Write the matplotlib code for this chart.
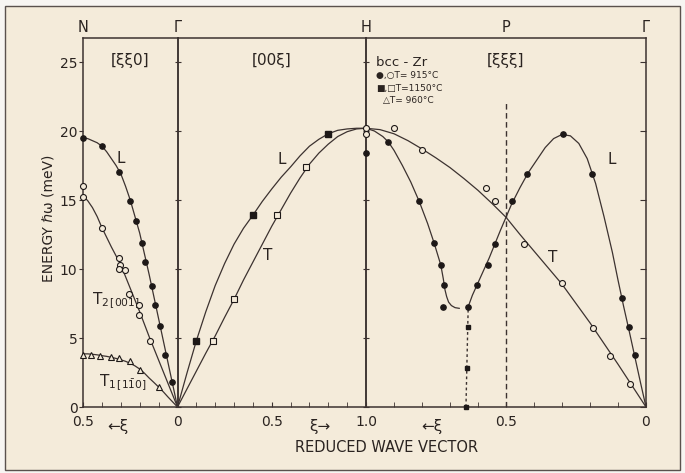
import matplotlib
matplotlib.use("Agg")
import matplotlib.pyplot as plt
from matplotlib.patches import Rectangle
from matplotlib.ticker import FixedLocator

# ---------------- [xi xi 0] direction, N -> Gamma ----------------
xi_110 = [0.5, 0.475, 0.45, 0.425, 0.4, 0.375, 0.35, 0.325, 0.3, 0.275, 0.25,
          0.225, 0.2, 0.175, 0.15, 0.125, 0.1, 0.075, 0.05, 0.025, 0.0]
L_110_fit = [19.5, 19.45, 19.3, 19.15, 18.9, 18.5, 18.0, 17.5, 16.9, 16.0, 15.0,
             13.8, 12.6, 11.1, 9.6, 8.0, 6.4, 4.8, 3.2, 1.6, 0.0]
T2_110_fit = [15.3, 14.95, 14.45, 13.8, 13.0, 12.3, 11.6, 10.95, 10.3, 9.45, 8.6,
              7.75, 6.9, 6.0, 5.1, 4.25, 3.4, 2.55, 1.7, 0.85, 0.0]
T1_110_fit = [3.85, 3.85, 3.82, 3.78, 3.72, 3.67, 3.6, 3.52, 3.42, 3.31, 3.17,
              2.98, 2.75, 2.45, 2.1, 1.78, 1.45, 1.1, 0.72, 0.36, 0.0]

L_110_xi = [0.5, 0.4, 0.31, 0.25, 0.22, 0.19, 0.17, 0.135, 0.12, 0.09, 0.065, 0.03]
L_110_E = [19.5, 18.9, 17.0, 14.9, 13.5, 11.9, 10.5, 8.8, 7.4, 5.9, 3.8, 1.8]
T2_110_xi = [0.5, 0.5, 0.4, 0.31, 0.305, 0.31, 0.28, 0.255, 0.205, 0.205, 0.145]
T2_110_E = [16.0, 15.2, 13.0, 10.8, 10.3, 10.0, 9.9, 8.2, 7.4, 6.7, 4.8]
T1_110_xi = [0.5, 0.46, 0.41, 0.35, 0.31, 0.25, 0.2, 0.1]
T1_110_E = [3.8, 3.8, 3.7, 3.6, 3.55, 3.35, 2.7, 1.45]

# ---------------- [0 0 xi] direction, Gamma -> H ----------------
xi_100 = [0.0, 0.05, 0.1, 0.15, 0.2, 0.25, 0.3, 0.35, 0.4, 0.45, 0.5,
          0.55, 0.6, 0.65, 0.7, 0.75, 0.8, 0.85, 0.9, 0.95, 1.0]
L_100_fit = [0.0, 2.45, 4.8, 6.9, 8.8, 10.4, 11.8, 12.95, 13.9, 14.9, 15.8,
             16.65, 17.4, 18.2, 18.9, 19.4, 19.8, 20.05, 20.15, 20.2, 20.2]
T_100_fit = [0.0, 1.3, 2.6, 3.9, 5.15, 6.5, 7.8, 9.2, 10.5, 11.8, 13.1,
             14.3, 15.5, 16.6, 17.6, 18.4, 19.05, 19.6, 19.95, 20.15, 20.2]

L_100_xi = [0.10, 0.40, 0.80]
L_100_E = [4.8, 13.9, 19.8]
T_100_xi = [0.19, 0.30, 0.53, 0.68]
T_100_E = [4.8, 7.8, 13.9, 17.4]

# ---------------- [xi xi xi] direction, H -> P -> Gamma ----------------
xi_111 = [1.0, 0.95, 0.9, 0.85, 0.8, 0.75, 0.7, 0.65, 0.6, 0.55, 0.5,
          0.45, 0.4, 0.35, 0.3, 0.25, 0.2, 0.15, 0.1, 0.05, 0.0]
T_111_fit = [20.2, 20.1, 19.8, 19.3, 18.7, 18.05, 17.35, 16.55, 15.7, 14.75, 13.75,
             12.5, 11.3, 10.1, 8.9, 7.5, 6.1, 4.6, 3.1, 1.55, 0.0]

# longitudinal branch near H, ending in the dip
L1_111_xi = [1.0, 0.97, 0.94, 0.92, 0.9, 0.87, 0.84, 0.81, 0.78, 0.757, 0.745,
             0.733, 0.724, 0.718, 0.712, 0.705, 0.695, 0.682, 0.667]
L1_111_fit = [20.2, 20.0, 19.6, 19.2, 18.6, 17.5, 16.3, 14.9, 13.3, 11.9, 11.1,
              10.3, 9.3, 8.5, 8.0, 7.6, 7.35, 7.2, 7.15]
# longitudinal branch from the dip through P to Gamma
L2_111_xi = [0.635, 0.62, 0.6, 0.58, 0.56, 0.54, 0.52, 0.5, 0.48, 0.45, 0.42,
             0.39, 0.36, 0.33, 0.3, 0.27, 0.24, 0.21, 0.18, 0.15, 0.12, 0.1,
             0.08, 0.06, 0.04, 0.02, 0.0]
L2_111_fit = [7.27, 8.1, 9.0, 9.9, 10.8, 11.8, 12.8, 13.75, 14.7, 15.9, 17.0,
              17.9, 18.8, 19.45, 19.75, 19.65, 19.1, 18.0, 16.2, 13.8, 11.2, 9.2,
              7.3, 5.5, 3.65, 1.8, 0.0]
# soft mode at xi = 2/3
dip_xi = [0.643, 0.635]
dip_E = [0.0, 7.27]

T_111_xi = [1.0, 1.0, 0.90, 0.80, 0.57, 0.54, 0.435, 0.30, 0.19, 0.13, 0.057]
T_111_E = [20.2, 19.8, 20.2, 18.6, 15.9, 14.95, 11.8, 8.96, 5.7, 3.7, 1.7]
L_111_xi = [1.0, 0.92, 0.81, 0.757, 0.732, 0.721, 0.726,
            0.635, 0.605, 0.563, 0.539, 0.48, 0.426, 0.295, 0.192, 0.087, 0.06, 0.04]
L_111_E = [18.4, 19.2, 14.9, 11.9, 10.3, 8.84, 7.27,
           7.27, 8.84, 10.3, 11.8, 14.9, 16.9, 19.75, 16.9, 7.9, 5.8, 3.8]
dip_pts_xi = [0.637, 0.64, 0.643]
dip_pts_E = [5.8, 2.85, 0.0]

energy_ticks = [0, 5, 10, 15, 20, 25]
points_top = ["N", "Γ", "H", "P", "Γ"]

W, H = 685, 473
E_MAX = 26.74
paper = "#f4ebda"
ink = "#2a2320"
line_c = "#3c3230"


def setup(ax, xmin, xmax):
    ax.set_facecolor("none")
    ax.set_xlim(xmin, xmax)
    ax.set_ylim(0, E_MAX)
    for s in ax.spines.values():
        s.set_color(line_c)
        s.set_linewidth(1.1)
    ax.set_yticks(energy_ticks)
    ax.xaxis.set_minor_locator(FixedLocator([0.1 * i for i in range(1, 10)]))
    ax.tick_params(axis="x", which="both", direction="in", length=3.5,
                   color=line_c, labelsize=10, labelcolor=ink, pad=6)


def curve(ax, x, y, **kw):
    ax.plot(x, y, color=line_c, lw=0.9, **kw)


def filled(ax, x, y, m="o", ms=3.8):
    ax.plot(x, y, m, ms=ms, color="#1d1817", ls="none", clip_on=False, zorder=5)


def hollow(ax, x, y, m="o", ms=4.3):
    ax.plot(x, y, m, ms=ms, mfc=paper, mec="#1d1817", mew=0.8, ls="none",
            clip_on=False, zorder=5)


fig = plt.figure(figsize=(W / 100, H / 100), dpi=100)
fig.patch.set_facecolor("#f7f5f2")
fig.patches.append(Rectangle((5 / W, 1 - 470 / H), 675 / W, 464 / H,
                             transform=fig.transFigure, fc=paper, ec="#5a514d",
                             lw=1.0, zorder=-1))

bottom, height = 66 / H, 369 / H
ax1 = fig.add_axes([83 / W, bottom, 94.5 / W, height])
ax2 = fig.add_axes([177.5 / W, bottom, 188.5 / W, height])
ax3 = fig.add_axes([366 / W, bottom, 280 / W, height])

# N -> Gamma
setup(ax1, 0.5, 0.0)
ax1.set_xticks([0.5, 0.0], ["0.5", "0"])
ax1.xaxis.set_minor_locator(FixedLocator([0.1, 0.2, 0.3, 0.4]))
ax1.tick_params(axis="y", direction="out", length=3, color=line_c,
                labelsize=10, labelcolor=ink, pad=1)
curve(ax1, xi_110, L_110_fit)
curve(ax1, xi_110, T2_110_fit)
curve(ax1, xi_110, T1_110_fit)
filled(ax1, L_110_xi, L_110_E)
hollow(ax1, T2_110_xi, T2_110_E)
hollow(ax1, T1_110_xi, T1_110_E, m="^", ms=4.3)
ax1.text(0.30, 18.0, "L", fontsize=11, color=ink, ha="center", va="center")
ax1.text(0.455, 7.7, r"T$_{2\,[001]}$", fontsize=11, color=ink, va="center")
ax1.text(0.415, 1.75, r"T$_{1\,[1\bar{1}0]}$", fontsize=11, color=ink, va="center")
ax1.text(0.25, 25.1, "[ξξ0]", fontsize=11, color=ink, ha="center", va="center")
ax1.text(0.315, -1.4, "←ξ", fontsize=11, color=ink, ha="center", va="center")

# Gamma -> H
setup(ax2, 0.0, 1.0)
ax2.set_xticks([0.5, 1.0], ["0.5", "1.0"])
ax2.tick_params(axis="y", left=True, right=True, labelleft=False,
                direction="inout", length=5, color=line_c)
curve(ax2, xi_100, L_100_fit)
curve(ax2, xi_100, T_100_fit)
filled(ax2, L_100_xi, L_100_E, m="s", ms=3.8)
hollow(ax2, T_100_xi, T_100_E, m="s", ms=4.0)
ax2.text(0.555, 17.9, "L", fontsize=11, color=ink, ha="center", va="center")
ax2.text(0.48, 11.0, "T", fontsize=11, color=ink, ha="center", va="center")
ax2.text(0.50, 25.1, "[00ξ]", fontsize=11, color=ink, ha="center", va="center")
ax2.text(0.755, -1.4, "ξ→", fontsize=11, color=ink, ha="center", va="center")

# H -> P -> Gamma
setup(ax3, 1.0, 0.0)
ax3.set_xticks([0.5, 0.0], ["0.5", "0"])
ax3.xaxis.set_minor_locator(FixedLocator([0.1, 0.2, 0.3, 0.4, 0.6, 0.7, 0.8, 0.9]))
ax3.tick_params(axis="y", left=False, right=True, labelleft=False,
                direction="in", length=4, color=line_c)
ax3.vlines(0.5, 0, 22.2, colors=line_c, lw=1.0, linestyles=(0, (4, 2.5)))
curve(ax3, xi_111, T_111_fit)
curve(ax3, L1_111_xi, L1_111_fit)
curve(ax3, L2_111_xi, L2_111_fit)
ax3.plot(dip_xi, dip_E, color=line_c, lw=1.0, ls=(0, (2, 2)))
hollow(ax3, T_111_xi, T_111_E)
filled(ax3, L_111_xi, L_111_E)
filled(ax3, dip_pts_xi, dip_pts_E, m="s", ms=3.2)
ax3.text(0.121, 17.9, "L", fontsize=11, color=ink, ha="center", va="center")
ax3.text(0.332, 10.8, "T", fontsize=11, color=ink, ha="center", va="center")
ax3.text(0.503, 25.1, "[ξξξ]", fontsize=11, color=ink, ha="center", va="center")
ax3.text(0.764, -1.4, "←ξ", fontsize=11, color=ink, ha="center", va="center")

# sample and temperatures
ax3.text(0.965, 25.0, "bcc - Zr", fontsize=9.5, color=ink, va="center")
ax3.text(0.965, 24.05, "●,○T= 915°C", fontsize=6.5, color=ink, va="center")
ax3.text(0.965, 23.1, "■,□T=1150°C", fontsize=6.5, color=ink, va="center")
ax3.text(0.94, 22.2, "△T= 960°C", fontsize=6.5, color=ink, va="center")

# symmetry points along the top edge
for ax, x, name in [(ax1, 0.5, points_top[0]), (ax1, 0.0, points_top[1]),
                    (ax2, 1.0, points_top[2]), (ax3, 0.5, points_top[3]),
                    (ax3, 0.0, points_top[4])]:
    ax.text(x, E_MAX + 0.75, name, fontsize=10.5, color=ink, ha="center",
            va="center", clip_on=False)

fig.text(49 / W, 1 - 218 / H, "ENERGY ℏω (meV)", rotation=90, fontsize=10,
         color=ink, ha="center", va="center")
fig.text(387 / W, 1 - 447 / H, "REDUCED WAVE VECTOR", fontsize=10.5,
         color=ink, ha="center", va="center")

fig.savefig("out.png", dpi=100, facecolor=fig.get_facecolor())
